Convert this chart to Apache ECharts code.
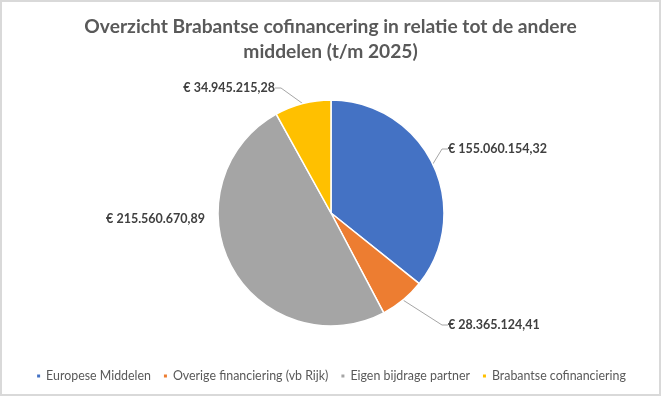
<!DOCTYPE html>
<html><head><meta charset="utf-8">
<script src="https://cdn.jsdelivr.net/npm/echarts@6/dist/echarts.min.js"></script>
<style>
html,body{margin:0;padding:0;background:#fff;}
#c{width:657px;height:392px;border:2px solid #d9d9d9;}
</style></head>
<body><div id="c"></div>
<script>
const categories = ['Europese Middelen','Overige financiering (vb Rijk)','Eigen bijdrage partner','Brabantse cofinanciering'];
const values = [155060154.32, 28365124.41, 215560670.89, 34945215.28];
const colors = ['#4472C4','#ED7D31','#A5A5A5','#FFC000'];
const showLeader = [true, true, false, true];

function fmt(v){
  const parts = v.toFixed(2).split('.');
  const intPart = parts[0].replace(/\B(?=(\d{3})+(?!\d))/g,'.');
  return '€ ' + intPart + ',' + parts[1];
}

// label anchor placement (page pixels): [x, y, align]
const labelPos = [[446,147,'left'],[446,323,'left'],[203,217,'right'],[273,86,'right']];

const chart = echarts.init(document.getElementById('c'));
chart.setOption({
  animation:false,
  backgroundColor:'#fff',
  title:{
    text:'Overzicht Brabantse cofinancering in relatie tot de andere\nmiddelen (t/m 2025)',
    left:'center', top:7,
    textStyle:{fontFamily:'Lato', fontSize:19.2, fontWeight:'bold', color:'#595959', lineHeight:25}
  },
  legend:{
    top:363, left:'center',
    itemWidth:5, itemHeight:5, itemGap:11, icon:'rect',
    textStyle:{fontFamily:'Lato', fontSize:12.4, color:'#595959'},
    data:categories
  },
  series:[{
    type:'pie',
    center:[329,211],
    radius:113,
    startAngle:90,
    clockwise:true,
    itemStyle:{borderColor:'#fff', borderWidth:1.5},
    label:{
      formatter:p=>fmt(values[p.dataIndex]),
      fontFamily:'Lato', fontSize:12.5, fontWeight:'bold', color:'#404040'
    },
    labelLine:{length:12, length2:6, lineStyle:{color:'#A6A6A6', width:1}},
    labelLayout:function(p){
      const q = labelPos[p.dataIndex];
      return {x:q[0], y:q[1], align:q[2], verticalAlign:'middle'};
    },
    data:categories.map((n,i)=>({name:n, value:values[i], itemStyle:{color:colors[i]}, labelLine:{show:showLeader[i]}}))
  }]
});
</script></body></html>
